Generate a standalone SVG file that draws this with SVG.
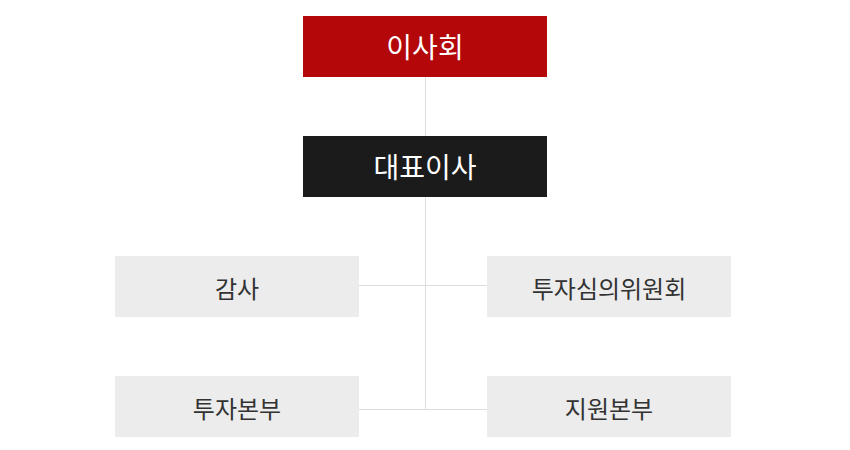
<svg xmlns="http://www.w3.org/2000/svg" width="850" height="450" viewBox="0 0 850 450">
<style>
.t{font-family:"Noto Sans CJK KR","Noto Sans",sans-serif;text-anchor:middle;dominant-baseline:central}
.w{fill:#ffffff;font-size:28px}
.g{fill:#333333;font-size:24px}
.ln{stroke:#dddddd;stroke-width:1;fill:none}
.box{fill:#ececec}
</style>
<rect width="850" height="450" fill="#ffffff"/>
<g id="connectors">
<line class="ln" x1="425.5" y1="76" x2="425.5" y2="136"/>
<line class="ln" x1="425.5" y1="196" x2="425.5" y2="409.5"/>
<line class="ln" x1="359" y1="285.5" x2="487" y2="285.5"/>
<line class="ln" x1="359" y1="409.5" x2="487" y2="409.5"/>
</g>
<g id="board">
<rect x="303" y="16" width="244" height="61" fill="#b4070a"/>
<text class="t w" x="425" y="46">이사회</text>
</g>
<g id="ceo">
<rect x="303" y="136" width="244" height="61" fill="#1b1b1b"/>
<text class="t w" x="425" y="166">대표이사</text>
</g>
<g id="audit">
<rect class="box" x="115" y="256" width="244" height="61"/>
<text class="t g" x="237" y="287">감사</text>
</g>
<g id="committee">
<rect class="box" x="487" y="256" width="244" height="61"/>
<text class="t g" x="609" y="287">투자심의위원회</text>
</g>
<g id="invest">
<rect class="box" x="115" y="376" width="244" height="61"/>
<text class="t g" x="237" y="407">투자본부</text>
</g>
<g id="support">
<rect class="box" x="487" y="376" width="244" height="61"/>
<text class="t g" x="609" y="407">지원본부</text>
</g>
</svg>
